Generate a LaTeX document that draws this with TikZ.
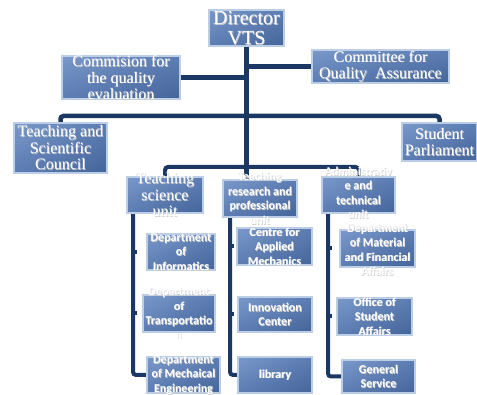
\documentclass[tikz,border=0pt]{standalone}
\usepackage{fontspec}
\setmainfont{Liberation Serif}
\newfontfamily\sansf{Carlito}
\usetikzlibrary{shadings}
\definecolor{linecol}{HTML}{1B3764}
\definecolor{boxedge}{HTML}{BCCDE6}
\definecolor{boxul}{HTML}{7A98C9}
\definecolor{boxmid}{HTML}{5C7DB3}
\definecolor{boxlr}{HTML}{45659A}
\tikzset{
  orgbox/.style={rectangle, draw=boxedge, line width=1.3pt, inner sep=0pt, outer sep=0pt,
    upper left=boxul, upper right=boxmid, lower left=boxmid, lower right=boxlr},
  mainline/.style={draw=linecol, line width=4.5pt, rounded corners=3pt},
  subline/.style={draw=linecol, line width=4pt, rounded corners=3pt},
  labeltxt/.style={text=white, align=center, inner sep=0pt},
  shadowtxt/.style={text=gray!38, align=center, inner sep=0pt},
  bigserif/.style={font=\fontsize{20}{20}\selectfont},
  serifl/.style={font=\fontsize{16}{16.5}\selectfont},
  sansl/.style={font=\sansf\bfseries\fontsize{12}{14.5}\selectfont},
}
\newcommand{\boxlabel}[4][0]{%
  \node[shadowtxt,#3] (#2-s) at ([shift={(0.7,0.7+#1)}]#2.center) {#4};
  \node[labeltxt,#3] (#2-t) at ([yshift=#1*-1pt]#2.center) {#4};}
\begin{document}
\begin{tikzpicture}[x=1pt,y=-1pt]
\useasboundingbox (0,0) rectangle (477,395);
% boxes (positions)
\node[orgbox, minimum width=75pt, minimum height=36pt] (dir) at (246.5,28) {};
\node[orgbox, minimum width=118pt, minimum height=43pt] (com) at (121,77.5) {};
\node[orgbox, minimum width=137pt, minimum height=33pt] (qa) at (380.5,66.5) {};
\node[orgbox, minimum width=93pt, minimum height=50pt] (tsc) at (60.5,148) {};
\node[orgbox, minimum width=75pt, minimum height=38pt] (sp) at (439.5,142) {};
\node[orgbox, minimum width=76pt, minimum height=36pt] (tsu) at (165,195) {};
\node[orgbox, minimum width=74pt, minimum height=37pt] (trp) at (260,198.5) {};
\node[orgbox, minimum width=73pt, minimum height=36pt] (atu) at (358.5,195) {};
\node[orgbox, minimum width=68pt, minimum height=36pt] (dinf) at (181,252) {};
\node[orgbox, minimum width=72pt, minimum height=37pt] (dtr) at (179,313.5) {};
\node[orgbox, minimum width=73pt, minimum height=36pt] (dme) at (183.5,375) {};
\node[orgbox, minimum width=75pt, minimum height=37pt] (cam) at (274.5,246.5) {};
\node[orgbox, minimum width=74pt, minimum height=35pt] (inn) at (275,314.5) {};
\node[orgbox, minimum width=74pt, minimum height=36pt] (lib) at (275,375) {};
\node[orgbox, minimum width=75pt, minimum height=37pt] (dmf) at (377.5,248.5) {};
\node[orgbox, minimum width=75pt, minimum height=37pt] (osa) at (374.5,316.5) {};
\node[orgbox, minimum width=73pt, minimum height=33pt] (gs) at (378.5,376.5) {};
% connectors
\coordinate (h1) at (247,116);
\coordinate (h2) at (247,167);
\draw[mainline] (dir.south) -- (dir.south |- trp.north);
\draw[mainline] (com.east) -- (dir.south |- com.east);
\draw[mainline] (qa.west) -- (dir.south |- qa.west);
\draw[mainline] (tsc.north) |- (h1) -| (sp.north);
\draw[subline] (tsu.north) |- (h2) -| (atu.north);
\coordinate (s1) at ([xshift=-32pt]tsu.south);
\coordinate (s2) at ([xshift=-30pt]trp.south);
\coordinate (s3) at ([xshift=-30.5pt]atu.south);
\draw[subline] (s1) |- (dme.west);
\draw[subline] (s2) |- (lib.west);
\draw[subline] (s3) |- (gs.west);
\draw[subline, rounded corners=0pt] (s1 |- dinf.west) -- ++(4,0);
\draw[subline, rounded corners=0pt] (s1 |- dtr.west) -- ++(4,0);
\draw[subline, rounded corners=0pt] (s2 |- cam.west) -- ++(4,0);
\draw[subline, rounded corners=0pt] (s2 |- inn.west) -- ++(4,0);
\draw[subline, rounded corners=0pt] (s3 |- dmf.west) -- ++(4,0);
\draw[subline, rounded corners=0pt] (s3 |- osa.west) -- ++(4,0);
% redraw boxes over connector ends
\foreach \b in {dir,com,qa,tsc,sp,tsu,trp,atu,dinf,dtr,dme,cam,inn,lib,dmf,osa,gs}{
  \path[draw=boxedge, line width=1.3pt, upper left=boxul, upper right=boxmid, lower left=boxmid, lower right=boxlr]
    (\b.north west) rectangle (\b.south east);
}
% labels
\boxlabel{dir}{bigserif}{Director\\VTS}
\boxlabel{com}{serifl}{Commision for\\the quality\\evaluation}
\boxlabel{qa}{serifl}{Committee for\\Quality\ \ Assurance}
\boxlabel{tsc}{serifl}{Teaching and\\Scientific\\Council}
\boxlabel{sp}{serifl}{Student\\Parliament}
\boxlabel{tsu}{serifl}{Teaching\\science\\unit}
\boxlabel{trp}{sansl}{Teaching\\research and\\professional\\unit}
\boxlabel[-2]{atu}{sansl}{Administrativ\\e and\\technical\\unit}
\boxlabel{dinf}{sansl}{Department\\of\\Informatics}
\boxlabel{dtr}{sansl}{Department\\of\\Transportatio\\n}
\boxlabel{dme}{sansl}{Department\\of Mechaical\\Engineering}
\boxlabel{cam}{sansl}{Centre for\\Applied\\Mechanics}
\boxlabel{inn}{sansl}{Innovation\\Center}
\boxlabel{lib}{sansl}{library}
\boxlabel[1.5]{dmf}{sansl}{Department\\of Material\\and Financial\\Affairs}
\boxlabel{osa}{sansl}{Office of\\Student\\Affairs}
\boxlabel{gs}{sansl}{General\\Service}
\end{tikzpicture}
\end{document}
